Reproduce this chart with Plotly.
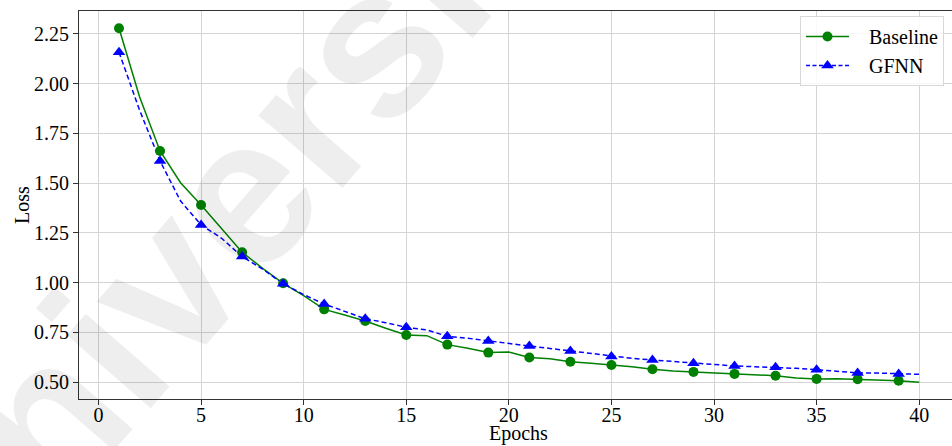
import plotly.graph_objects as go

epochs = list(range(1, 41))
baseline = [2.277, 1.934, 1.661, 1.502, 1.390, 1.273, 1.153, 1.072, 0.997, 0.935,
            0.866, 0.838, 0.808, 0.771, 0.737, 0.734, 0.689, 0.671, 0.649, 0.652,
            0.624, 0.618, 0.603, 0.595, 0.587, 0.578, 0.565, 0.556, 0.552, 0.548,
            0.542, 0.538, 0.533, 0.522, 0.517, 0.518, 0.515, 0.513, 0.508, 0.500]
gfnn = [2.157, 1.867, 1.611, 1.410, 1.290, 1.223, 1.131, 1.068, 0.995, 0.940,
        0.893, 0.854, 0.819, 0.799, 0.776, 0.763, 0.731, 0.721, 0.707, 0.695,
        0.682, 0.670, 0.657, 0.645, 0.630, 0.620, 0.612, 0.604, 0.595, 0.590,
        0.582, 0.578, 0.575, 0.570, 0.563, 0.556, 0.547, 0.546, 0.542, 0.540]
mark_epochs = epochs[0::2]
baseline_marks = baseline[0::2]
gfnn_marks = gfnn[0::2]

x_ticks = [0, 5, 10, 15, 20, 25, 30, 35, 40]
y_ticks = [0.50, 0.75, 1.00, 1.25, 1.50, 1.75, 2.00, 2.25]
y_tick_labels = ["0.50", "0.75", "1.00", "1.25", "1.50", "1.75", "2.00", "2.25"]

GREEN = "#008000"
BLUE = "#0000ff"
FONT = "Liberation Serif"
PAD = "\u00a0\u00a0\u00a0"

fig = go.Figure()
fig.add_trace(go.Scatter(x=epochs, y=baseline, mode="lines",
                         line=dict(color=GREEN, width=1.5), showlegend=False))
fig.add_trace(go.Scatter(x=epochs, y=gfnn, mode="lines",
                         line=dict(color=BLUE, width=1.5, dash="5px,3px"), showlegend=False))
fig.add_trace(go.Scatter(x=mark_epochs, y=baseline_marks, mode="markers",
                         marker=dict(color=GREEN, size=10, symbol="circle"), showlegend=False))
fig.add_trace(go.Scatter(x=mark_epochs, y=gfnn_marks, mode="markers",
                         marker=dict(color=BLUE, size=11, symbol="triangle-up"), showlegend=False))
fig.add_trace(go.Scatter(x=[None], y=[None], mode="lines+markers", name=PAD + "Baseline",
                         line=dict(color=GREEN, width=1.5),
                         marker=dict(color=GREEN, size=10, symbol="circle")))
fig.add_trace(go.Scatter(x=[None], y=[None], mode="lines+markers", name=PAD + "GFNN",
                         line=dict(color=BLUE, width=1.5, dash="4px,2.5px"),
                         marker=dict(color=BLUE, size=11, symbol="triangle-up")))

L, T, R, B = 79, 11, 952, 399
W, H = 952, 446
pw, ph = R - L, B - T

def px(xp):
    return (xp - L) / pw

def py(yp):
    return 1 - (yp - T) / ph

fig.update_layout(
    width=W, height=H,
    margin=dict(l=L, r=W - R, t=T, b=H - B, pad=0),
    paper_bgcolor="white", plot_bgcolor="white",
    font=dict(family=FONT, size=20, color="black"),
    xaxis=dict(range=[-0.95, 41.6], tickvals=x_ticks, ticks="outside", ticklen=5,
               tickcolor="#333333", showline=True, linecolor="#333333", linewidth=1,
               mirror=True, showgrid=True, gridcolor="#d4d4d4", gridwidth=1,
               zeroline=False, ticklabelstandoff=-7,
               tickfont=dict(family=FONT, size=20)),
    yaxis=dict(range=[0.416, 2.364], tickvals=y_ticks, ticktext=y_tick_labels,
               ticks="outside", ticklen=5, tickcolor="#333333", showline=True,
               linecolor="#333333", linewidth=1, mirror=False, showgrid=True,
               gridcolor="#d4d4d4", gridwidth=1, zeroline=False,
               tickfont=dict(family=FONT, size=20)),
    legend=dict(x=px(800), y=py(16), xanchor="left", yanchor="top",
                bgcolor="rgba(255,255,255,0.85)", bordercolor="#d8d8d8", borderwidth=1,
                itemwidth=43,
                font=dict(family=FONT, size=20), tracegroupgap=0),
    annotations=[
        dict(text="Epochs", x=px(518), y=py(434), xref="paper", yref="paper",
             showarrow=False, font=dict(family=FONT, size=20), xanchor="center", yanchor="middle"),
        dict(text="Loss", x=px(22), y=py(205), xref="paper", yref="paper", textangle=-90,
             showarrow=False, font=dict(family=FONT, size=20), xanchor="center", yanchor="middle"),
        dict(text="<b>University</b>", x=px(235), y=py(200), xref="paper", yref="paper",
             textangle=-49, showarrow=False,
             font=dict(family="Liberation Sans", size=210, color="rgba(0,0,0,0.065)"),
             xanchor="center", yanchor="middle"),
    ],
)

fig.write_html("out.html")
